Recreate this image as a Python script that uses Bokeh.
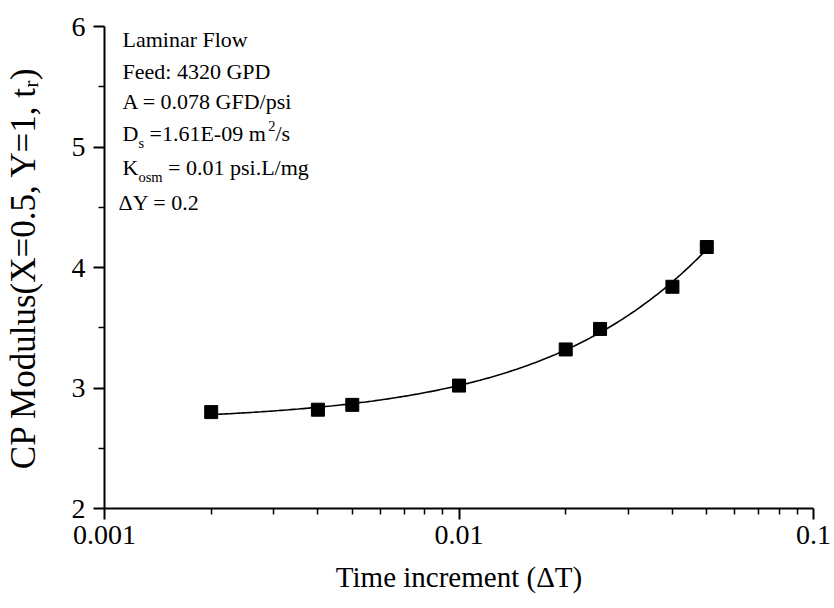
import numpy as np
from bokeh.plotting import figure
from bokeh.models import Range1d, FixedTicker, CustomJSTickFormatter, Label
from bokeh.embed import file_html
from bokeh.resources import INLINE

# CP modulus at X=0.5, Y=1 versus the time increment used in the solver
dt = [0.002, 0.004, 0.005, 0.01, 0.02, 0.025, 0.04, 0.05]
cp_modulus = [2.80, 2.82, 2.86, 3.02, 3.32, 3.49, 3.84, 4.17]

x_ticks = [0.001, 0.01, 0.1]
x_minor = [0.002, 0.003, 0.004, 0.005, 0.006, 0.007, 0.008, 0.009,
           0.02, 0.03, 0.04, 0.05, 0.06, 0.07, 0.08, 0.09]
y_ticks = [2, 3, 4, 5, 6]
y_minor = [2.5, 3.5, 4.5, 5.5]

W, H = 834, 608
L, R, T, B = 102, 21, 26, 100
FONT = "Liberation Serif"

p = figure(width=W, height=H, x_axis_type="log",
           x_range=Range1d(0.001, 0.1), y_range=Range1d(2, 6),
           output_backend="svg", toolbar_location=None,
           min_border_left=L, min_border_right=R,
           min_border_top=T, min_border_bottom=B)
p.outline_line_color = None
p.grid.visible = False
p.background_fill_color = "white"
p.border_fill_color = "white"

# smooth quadratic fit through the points
coef = np.polyfit(dt, cp_modulus, 2)
xs = np.geomspace(dt[0], dt[-1], 200)
p.line(xs, np.polyval(coef, xs), line_color="black", line_width=1.6)
p.scatter(dt, cp_modulus, marker="square", size=13,
          fill_color="black", line_color="black")

for ax in (p.xaxis[0], p.yaxis[0]):
    ax.axis_line_width = 2
    ax.axis_line_color = "black"
    ax.major_tick_line_width = 2
    ax.minor_tick_line_width = 1.5
    ax.major_tick_out = 11
    ax.major_tick_in = 0
    ax.minor_tick_out = 6
    ax.minor_tick_in = 0
    ax.major_label_text_font = FONT
    ax.major_label_text_font_size = "28px"
    ax.major_label_text_color = "black"
    ax.axis_label_text_font = FONT
    ax.axis_label_text_font_style = "normal"
    ax.axis_label_text_color = "black"

p.xaxis.ticker = FixedTicker(ticks=x_ticks, minor_ticks=x_minor)
p.xaxis.formatter = CustomJSTickFormatter(code="return tick.toString()")
p.xaxis.major_label_standoff = 6
p.xaxis.axis_label = "Time increment (\u0394T)"
p.xaxis.axis_label_text_font_size = "29px"
p.xaxis.axis_label_standoff = 14

p.yaxis.ticker = FixedTicker(ticks=y_ticks, minor_ticks=y_minor)
p.yaxis.major_label_standoff = 8
p.yaxis.axis_label = "CP Modulus(X=0.5, Y=1, t\u1d63)"
p.yaxis.axis_label_text_font_size = "35px"
p.yaxis.axis_label_standoff = 26

# Times-compatible advance widths (per 1000 em) for laying out text runs
ADV = {' ': 250, '(': 333, ')': 333, '.': 250, '/': 278, '-': 333, '=': 564,
       ':': 278, ',': 250, 'A': 722, 'C': 667, 'D': 722, 'E': 722, 'F': 556,
       'G': 722, 'K': 722, 'L': 611, 'M': 889, 'P': 556, 'T': 611, 'X': 722,
       'Y': 722, 'a': 444, 'c': 444, 'd': 500, 'e': 444, 'g': 500, 'i': 278,
       'l': 278, 'm': 778, 'n': 500, 'o': 500, 'p': 500, 'r': 333, 's': 389,
       't': 278, 'u': 500, 'w': 722, '\u0394': 612}
for d in "0123456789":
    ADV[d] = 500


def advance(s, size):
    return sum(ADV.get(c, 500) for c in s) * size / 1000.0


def put(text, cx, cy, size):
    p.add_layout(Label(x=x_ticks[0], y=y_ticks[0],
                       x_offset=cx - L, y_offset=(H - B) - cy,
                       text=text, text_font=FONT,
                       text_font_size=f"{size}px", text_color="black",
                       text_align="left", text_baseline="alphabetic"))


def run(pieces, cx, cy):
    # pieces: (text, font size, baseline drop in px)
    pos = 0.0
    for text, size, drop in pieces:
        body = text.lstrip(" ")
        pos += advance(text[:len(text) - len(body)], size)
        put(body, cx + pos, cy + drop, size)
        pos += advance(body, size)


# parameter block
run([("Laminar Flow", 22, 0)], 120, 39)
run([("Feed: 4320 GPD", 22, 0)], 120, 71)
run([("A = 0.078 GFD/psi", 22, 0)], 120, 101)
run([("D", 22, 0), ("s", 14.5, 9), (" =1.61E-09 m", 22, 0),
     ("2", 14.5, -8), ("/s", 22, 0)], 120, 133)
run([("K", 22, 0), ("osm", 14.5, 9), (" = 0.01 psi.L/mg", 22, 0)], 120, 167)
run([("\u0394Y = 0.2", 22, 0)], 116, 202)

open("out.html", "w").write(file_html(p, INLINE))
